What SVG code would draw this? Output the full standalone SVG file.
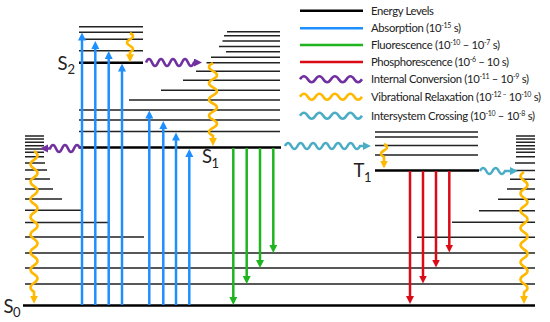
<svg xmlns="http://www.w3.org/2000/svg" width="550" height="322" viewBox="0 0 550 322">
<style>
.lv{stroke:#222;stroke-width:1.5;fill:none}
.lvb{stroke:#000;stroke-width:2.6;fill:none}
.abs{stroke:#1E8FFF;stroke-width:2.5;fill:none;marker-end:url(#ah-b)}
.flu{stroke:#1FB51F;stroke-width:2.5;fill:none;marker-end:url(#ah-g)}
.pho{stroke:#DC0A14;stroke-width:2.5;fill:none;marker-end:url(#ah-r)}
.ic{stroke:#7030A0;stroke-width:2.6;fill:none;marker-end:url(#ah-p)}
.vr{stroke:#FFB900;stroke-width:2.6;fill:none;marker-end:url(#ah-y)}
.isc{stroke:#4BACC6;stroke-width:2.6;fill:none;marker-end:url(#ah-c)}
.lg{font-family:Lato,"Liberation Sans",sans-serif;font-size:11.3px;fill:#222}
.lbl{font-family:Lato,"Liberation Sans",sans-serif;font-size:18.5px;fill:#222}
.sub{font-family:Lato,"Liberation Sans",sans-serif;font-size:13px;fill:#222}
</style>
<defs>
<marker id="ah-b" markerUnits="userSpaceOnUse" markerWidth="10" markerHeight="10" refX="2" refY="4" orient="auto"><path d="M0,0 L8,4 L0,8 z" fill="#1E8FFF"/></marker>
<marker id="ah-g" markerUnits="userSpaceOnUse" markerWidth="10" markerHeight="10" refX="2" refY="4" orient="auto"><path d="M0,0 L8,4 L0,8 z" fill="#1FB51F"/></marker>
<marker id="ah-r" markerUnits="userSpaceOnUse" markerWidth="10" markerHeight="10" refX="2" refY="4" orient="auto"><path d="M0,0 L8,4 L0,8 z" fill="#DC0A14"/></marker>
<marker id="ah-p" markerUnits="userSpaceOnUse" markerWidth="10" markerHeight="10" refX="2" refY="4" orient="auto"><path d="M0,0 L8,4 L0,8 z" fill="#7030A0"/></marker>
<marker id="ah-y" markerUnits="userSpaceOnUse" markerWidth="10" markerHeight="10" refX="2" refY="4" orient="auto"><path d="M0,0 L8,4 L0,8 z" fill="#FFB900"/></marker>
<marker id="ah-c" markerUnits="userSpaceOnUse" markerWidth="10" markerHeight="10" refX="2" refY="4" orient="auto"><path d="M0,0 L8,4 L0,8 z" fill="#4BACC6"/></marker>
</defs>
<rect width="550" height="322" fill="#fff"/>

<g id="S0">
<path class="lv" d="M25,136H44 M25,139H44 M25,142.3H44 M25,145.7H44 M25,149H44 M25,152.3H44 M25,156.7H44 M25,163H45 M25,170H47 M25,179H50 M25,189H53 M25,199H62 M25,210.3H81 M25,222.5H108 M25,237H144"/>
<path class="lv" d="M516,136H535 M516,139H535 M516,142.3H535 M516,145.7H535 M516,149H535 M516,152.3H535 M516,156.7H535 M515,163H535 M513,170.5H535 M510,179.3H535 M507,189H535 M498,199.3H535 M479,210.7H535 M452,222.3H535 M417,237.3H535"/>
<path class="lv" d="M25,253H535 M25,268H535 M25,284H535"/>
<path class="lvb" d="M23,305.5H535"/>
<text class="lbl" x="3.5" y="312.5">S</text><text class="sub" x="13" y="316.7">0</text>
</g>

<g id="S1">
<path class="lv" d="M227,31.7H280 M224,35.7H280 M222.5,41H280 M219,46.5H280 M226,51.7H280 M211,57.2H280 M206.5,62.7H280 M196,71.2H280 M183,80.2H280 M161,90.2H280 M129,100H280 M79,110H280 M79,120H280 M79,131.5H280"/>
<path class="lvb" d="M79,147.5H281"/>
<text class="lbl" x="202" y="163">S</text><text class="sub" x="211.5" y="168">1</text>
</g>

<g id="S2">
<path class="lv" d="M79,26.8H143 M79,32.3H143 M79,39.3H143 M79,50.7H143"/>
<path class="lvb" d="M79,62.8H143"/>
<text class="lbl" x="57.5" y="70">S</text><text class="sub" x="67.5" y="74">2</text>
</g>

<g id="T1">
<path class="lv" d="M375,132H478 M375,137H478 M375,145.5H478 M375,155H478"/>
<path class="lvb" d="M375,170.5H479"/>
<text class="lbl" x="353.5" y="176.7">T</text><text class="sub" x="364" y="181.7">1</text>
</g>

<g id="connectors">
<line class="abs" x1="82" y1="305" x2="82" y2="38.5"/>
<line class="abs" x1="95.3" y1="305" x2="95.3" y2="47"/>
<line class="abs" x1="108.7" y1="305" x2="108.7" y2="57"/>
<line class="abs" x1="122" y1="305" x2="122" y2="69.5"/>
<line class="abs" x1="149.3" y1="305" x2="149.3" y2="116.5"/>
<line class="abs" x1="163.3" y1="305" x2="163.3" y2="127"/>
<line class="abs" x1="176" y1="305" x2="176" y2="138.5"/>
<line class="abs" x1="189.3" y1="305" x2="189.3" y2="155"/>
<line class="flu" x1="233.3" y1="148" x2="233.3" y2="299"/>
<line class="flu" x1="246.7" y1="148" x2="246.7" y2="278"/>
<line class="flu" x1="260" y1="148" x2="260" y2="262"/>
<line class="flu" x1="273.3" y1="148" x2="273.3" y2="247"/>
<line class="pho" x1="410" y1="171" x2="410" y2="298"/>
<line class="pho" x1="423" y1="171" x2="423" y2="277.5"/>
<line class="pho" x1="436" y1="171" x2="436" y2="261.5"/>
<line class="pho" x1="449.3" y1="171" x2="449.3" y2="246.5"/>
<path class="ic" d="M146,62.5 q3,-7 6,0 t6,0 t6,0 t6,0 t6,0 t6,0 t6,0 t6,0 l2,0"/>
<path class="ic" d="M80,148.5 q-3,-7 -6,0 t-6,0 t-6,0 t-6,0 t-6,0 l-4,0"/>
<path class="isc" d="M285,146 q3.125,-6 6.25,0 t6.25,0 t6.25,0 t6.25,0 t6.25,0 t6.25,0 t6.25,0 t6.25,0 t6.25,0 t6.25,0 t6.25,0 t6.25,0 l5,0"/>
<path class="isc" d="M480,171 q3.125,-6 6.25,0 t6.25,0 t6.25,0 t6.25,0 l7,0"/>
<path class="vr" d="M130,33 q6,3.2 0,6.4 t0,6.4 t0,6.4 l0,4"/>
<path class="vr" d="M213,63 q-8,4.05 0,8.1 t0,8.1 t0,8.1 t0,8.1 t0,8.1 t0,8.1 t0,8.1 t0,8.1 t0,8.1 l0,4"/>
<path class="vr" d="M34,151 q7,4.4 0,8.8 t0,8.8 t0,8.8 t0,8.8 t0,8.8 t0,8.8 t0,8.8 t0,8.8 t0,8.8 t0,8.8 t0,8.8 t0,8.8 t0,8.8 t0,8.8 t0,8.8 t0,8.8 l0,6"/>
<path class="vr" d="M524,172 q-7,4.3 0,8.6 t0,8.6 t0,8.6 t0,8.6 t0,8.6 t0,8.6 t0,8.6 t0,8.6 t0,8.6 t0,8.6 t0,8.6 t0,8.6 t0,8.6 t0,8.6 l0,5.5"/>
<path class="vr" d="M384,144 q6,3.25 0,6.5 t0,6.5 l0,5.5"/>
</g>

<g id="legend">
<path class="lvb" d="M300,10.7H363"/>
<path d="M300,28.3H363" stroke="#1E8FFF" stroke-width="2.6"/>
<path d="M300,45H363" stroke="#1FB51F" stroke-width="2.6"/>
<path d="M300,62H363" stroke="#DC0A14" stroke-width="2.6"/>
<path d="M300,79.3 q3.875,-6 7.75,0 t7.75,0 t7.75,0 t7.75,0 t7.75,0 t7.75,0 t7.75,0 t7.75,0" stroke="#7030A0" stroke-width="2.6" fill="none"/>
<path d="M300,96.7 q3.875,-6 7.75,0 t7.75,0 t7.75,0 t7.75,0 t7.75,0 t7.75,0 t7.75,0 t7.75,0" stroke="#FFB900" stroke-width="2.6" fill="none"/>
<path d="M300,115.7 q3.875,-6 7.75,0 t7.75,0 t7.75,0 t7.75,0 t7.75,0 t7.75,0 t7.75,0 t7.75,0" stroke="#4BACC6" stroke-width="2.6" fill="none"/>
<text class="lg" x="371" y="14.7" textLength="63" lengthAdjust="spacing">Energy Levels</text>
<text class="lg" x="371" y="32.2" textLength="90" lengthAdjust="spacing">Absorption (10<tspan font-size="7" dy="-4">-15</tspan><tspan dy="4"> s)</tspan></text>
<text class="lg" x="371" y="49" textLength="129" lengthAdjust="spacing">Fluorescence (10<tspan font-size="7" dy="-4">-10</tspan><tspan dy="4"> – 10</tspan><tspan font-size="7" dy="-4">-7</tspan><tspan dy="4"> s)</tspan></text>
<text class="lg" x="371" y="66" textLength="138" lengthAdjust="spacing">Phosphorescence (10<tspan font-size="7" dy="-4">-6</tspan><tspan dy="4"> – 10 s)</tspan></text>
<text class="lg" x="371" y="83.3" textLength="158" lengthAdjust="spacing">Internal Conversion (10<tspan font-size="7" dy="-4">-11</tspan><tspan dy="4"> – 10</tspan><tspan font-size="7" dy="-4">-9</tspan><tspan dy="4"> s)</tspan></text>
<text class="lg" x="371" y="100.7" textLength="170" lengthAdjust="spacing">Vibrational Relaxation (10<tspan font-size="7" dy="-4">-12 –</tspan><tspan dy="4"> 10</tspan><tspan font-size="7" dy="-4">-10</tspan><tspan dy="4"> s)</tspan></text>
<text class="lg" x="371" y="119.7" textLength="164" lengthAdjust="spacing">Intersystem Crossing (10<tspan font-size="7" dy="-4">-10</tspan><tspan dy="4"> – 10</tspan><tspan font-size="7" dy="-4">-8</tspan><tspan dy="4"> s)</tspan></text>
</g>
</svg>
